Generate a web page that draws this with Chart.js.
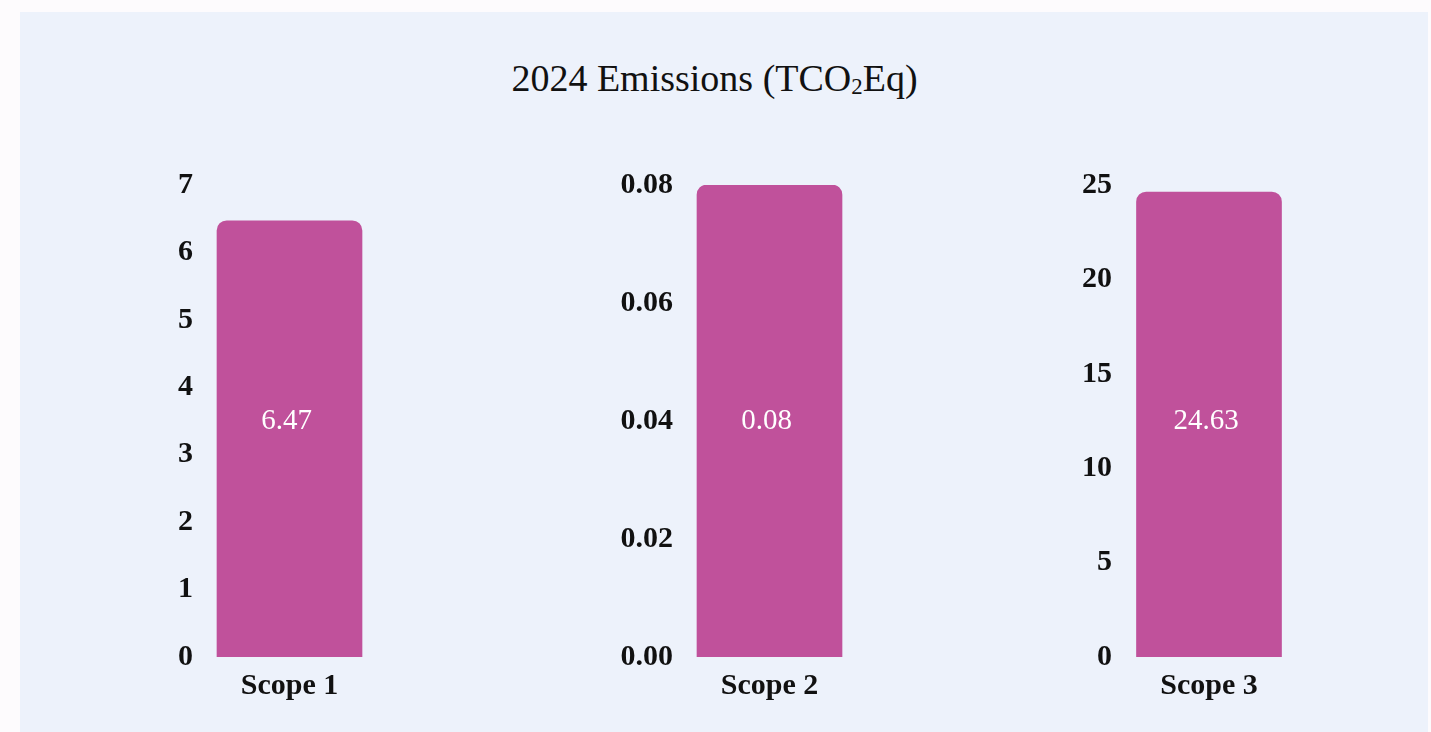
<!DOCTYPE html>
<html>
<head>
<meta charset="utf-8">
<script src="https://cdn.jsdelivr.net/npm/chart.js@4"></script>
<style>
  html, body { margin: 0; padding: 0; background: #fdfbfd; }
  body { width: 1431px; height: 732px; position: relative; overflow: hidden; }
  #panel { position: absolute; left: 20px; top: 12px; width: 1408px; height: 720px; background: #edf2fb; }
  #title { position: absolute; left: 0; top: 56px; width: 1429px; text-align: center;
    font-family: "Liberation Serif", serif; font-size: 38px; color: #111; }
  #title sub { font-size: 0.6em; vertical-align: -0.15em; }
  .box { position: absolute; top: 150px; height: 567px; }
</style>
</head>
<body>
<div id="panel"></div>
<div id="title">2024 Emissions (TCO<sub>2</sub>Eq)</div>
<div class="box" style="left:103px;width:273px"><canvas id="scope-1"></canvas></div>
<div class="box" style="left:583px;width:273px"><canvas id="scope-2"></canvas></div>
<div class="box" style="left:1022px;width:274px"><canvas id="scope-3"></canvas></div>
<script>
const categories = ['Scope 1', 'Scope 2', 'Scope 3'];
const emissions = [6.47, 0.08, 24.63];
const axisMax = [7, 0.08, 25];
const axisStep = [1, 0.02, 5];
const tickDecimals = [0, 2, 0];

const barColor = '#c0519b';
const serif = '"Liberation Serif", "DejaVu Serif", serif';

// value label sits in the middle of the plot area, not the bar
const midLabel = {
  id: 'midLabel',
  afterDatasetsDraw(chart) {
    const { ctx, chartArea } = chart;
    const bar = chart.getDatasetMeta(0).data[0];
    const value = chart.data.datasets[0].data[0];
    ctx.save();
    ctx.fillStyle = '#ffffff';
    ctx.font = '29px ' + serif;
    ctx.textAlign = 'center';
    ctx.textBaseline = 'middle';
    ctx.fillText(value.toFixed(2), bar.x - 3, (chartArea.top + chartArea.bottom) / 2);
    ctx.restore();
  }
};

function drawScope(i) {
  const config = {
    type: 'bar',
    data: {
      labels: [categories[i]],
      datasets: [{
        data: [emissions[i]],
        backgroundColor: barColor,
        borderRadius: 10,
        barThickness: 145
      }]
    },
    options: {
      responsive: true,
      maintainAspectRatio: false,
      animation: false,
      layout: { padding: { top: 35, right: 0, bottom: 0, left: 0 } },
      plugins: { legend: { display: false }, tooltip: { enabled: false } },
      scales: {
        x: {
          grid: { display: false, drawTicks: false },
          border: { display: false },
          ticks: { color: '#111', padding: 11, font: { family: serif, size: 30, weight: 'bold' } },
          afterFit: (scale) => { scale.height = 60; }
        },
        y: {
          min: 0,
          max: axisMax[i],
          grid: { display: false, drawTicks: false },
          border: { display: false },
          ticks: {
            stepSize: axisStep[i],
            color: '#111',
            padding: 10,
            font: { family: serif, size: 30, weight: 'bold' },
            callback: (v) => Number(v).toFixed(tickDecimals[i])
          },
          afterFit: (scale) => { scale.width = 100; }
        }
      }
    },
    plugins: [midLabel]
  };
  new Chart(document.getElementById('scope-' + (i + 1)), config);
}

categories.forEach((c, i) => drawScope(i));
</script>
</body>
</html>
